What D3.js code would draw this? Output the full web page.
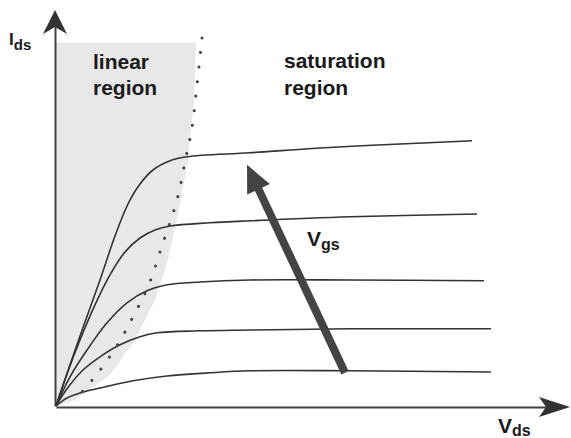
<!DOCTYPE html>
<html>
<head>
<meta charset="utf-8">
<script src="https://cdn.jsdelivr.net/npm/d3@7"></script>
<style>
  body { margin: 0; background: #fff; }
  svg { display: block; }
  text { font-family: "Liberation Sans", Arial, sans-serif; font-weight: bold; fill: #1a1a1a; }
</style>
</head>
<body>
<svg id="chart" width="571" height="438"></svg>
<script>
// output characteristics: [Vds, Ids] pairs (arbitrary units)
const curve1 = [[0,0],[0.28,1.03],[0.58,2.1],[0.88,3.15],[1.18,4.25],[1.44,5.05],[1.68,5.55],[1.94,5.9],[2.28,6.13],[2.62,6.23],[3.88,6.33],[5.28,6.45],[6.88,6.55],[8.32,6.63]];
const curve2 = [[0,0],[0.22,0.8],[0.48,1.65],[0.78,2.53],[1.08,3.28],[1.38,3.85],[1.68,4.2],[1.98,4.4],[2.28,4.5],[3.08,4.58],[3.88,4.63],[5.88,4.73],[8.42,4.8]];
const curve3 = [[0,0],[0.28,0.73],[0.62,1.4],[1.02,2.08],[1.42,2.58],[1.82,2.88],[2.22,3.03],[2.88,3.1],[3.88,3.15],[5.88,3.15],[8.56,3.13]];
const curve4 = [[0,0],[0.22,0.43],[0.54,0.9],[0.88,1.23],[1.28,1.53],[1.68,1.73],[2.02,1.83],[2.88,1.88],[3.88,1.9],[5.88,1.93],[8.7,1.93]];
const curve5 = [[0,0],[0.22,0.2],[0.54,0.35],[0.88,0.45],[1.54,0.63],[2.22,0.75],[3.08,0.83],[3.88,0.88],[5.88,0.88],[8.7,0.85]];
const curves = [curve1, curve2, curve3, curve4, curve5];

// boundary Vds = Vgs - Vt (dotted)
const satBoundary = [[2.92,9.2],[2.82,8.03],[2.72,6.95],[2.6,6.23],[2.42,5.15],[2.14,4.08],[1.84,2.98],[1.56,2.28],[1.24,1.55],[0.84,0.83],[0.52,0.35]];
// shaded linear region outline
const linearArea = [[0,9.08],[2.8,9.08],[2.76,7.65],[2.64,6.15],[2.44,4.78],[2.24,3.65],[1.98,2.65],[1.58,1.65],[1.08,0.78],[0.38,0.15],[0,0]];
// increasing Vgs arrow: from, to
const vgsArrow = [[5.78,0.83],[3.82,6.03]];

const xMax = 10, yMax = 10;

const svg = d3.select("#chart");
const x = d3.scaleLinear().domain([0, xMax]).range([56, 556]);
const y = d3.scaleLinear().domain([0, yMax]).range([406, 6]);

// shaded linear region
svg.append("path")
  .datum(linearArea)
  .attr("d", d3.line().x(d => x(d[0])).y(d => y(d[1])).curve(d3.curveLinearClosed))
  .attr("fill", "#e8e8e8");

// axes without ticks, just the lines
const xAxisScale = x.copy().domain([0, 10.1]).range([x(0), x(10.1)]);
const yAxisScale = y.copy().domain([0, 9.6]).range([y(0), y(9.6)]);

svg.append("g")
  .attr("transform", `translate(0,${y(0) + 1})`)
  .call(d3.axisBottom(xAxisScale).tickValues([]).tickSizeOuter(0))
  .select(".domain").attr("stroke", "#444").attr("stroke-width", 2);

svg.append("g")
  .attr("transform", `translate(${x(0) - 1},0)`)
  .call(d3.axisLeft(yAxisScale).tickValues([]).tickSizeOuter(0))
  .select(".domain").attr("stroke", "#444").attr("stroke-width", 2);

// arrowheads on the axes
const xt = x(10.28), xy = y(0) + 1;
svg.append("path")
  .attr("d", `M${xt},${xy} L${xt - 31},${xy - 10} L${xt - 24},${xy} L${xt - 31},${xy + 10} Z`)
  .attr("fill", "#333");
const yt = y(9.9), yx = x(0) - 1;
svg.append("path")
  .attr("d", `M${yx},${yt} L${yx + 12},${yt + 24} L${yx},${yt + 17} L${yx - 12},${yt + 24} Z`)
  .attr("fill", "#333");

// characteristic curves
const line = d3.line().x(d => x(d[0])).y(d => y(d[1])).curve(d3.curveCatmullRom.alpha(0.5));
svg.selectAll("path.curve")
  .data(curves)
  .enter()
  .append("path")
    .attr("class", "curve")
    .attr("d", line)
    .attr("fill", "none")
    .attr("stroke", "#333")
    .attr("stroke-width", 1.6);

// dotted boundary
svg.append("path")
  .datum(satBoundary)
  .attr("d", d3.line().x(d => x(d[0])).y(d => y(d[1])).curve(d3.curveCatmullRom))
  .attr("fill", "none")
  .attr("stroke", "#444")
  .attr("stroke-width", 3)
  .attr("stroke-linecap", "round")
  .attr("stroke-dasharray", "0.1 14.5");

// big Vgs arrow
const [p0, p1] = vgsArrow.map(d => [x(d[0]), y(d[1])]);
const dx = p1[0] - p0[0], dy = p1[1] - p0[1];
const len = Math.hypot(dx, dy), ux = dx / len, uy = dy / len;
const headLen = 27, headHalf = 12.5;
const base = [p1[0] - ux * headLen, p1[1] - uy * headLen];
svg.append("line")
  .attr("x1", p0[0]).attr("y1", p0[1])
  .attr("x2", base[0] + ux * 2).attr("y2", base[1] + uy * 2)
  .attr("stroke", "#444").attr("stroke-width", 8);
svg.append("path")
  .attr("d", `M${p1[0]},${p1[1]} L${base[0] - uy * headHalf},${base[1] + ux * headHalf} L${base[0] + uy * headHalf},${base[1] - ux * headHalf} Z`)
  .attr("fill", "#444");

// labels
function label(t, sub, px, py, size, subSize, subDy) {
  const el = svg.append("text").attr("x", px).attr("y", py).style("font-size", size + "px").text(t);
  if (sub) el.append("tspan").attr("dy", subDy).style("font-size", subSize + "px").text(sub);
}
label("I", "ds", 9, 45, 17, 15, 5);
label("V", "gs", 307, 246, 21, 16, 4);
label("V", "ds", 498, 433, 21, 16, 3);

svg.append("text").attr("x", 93).attr("y", 69).style("font-size", "21px").text("linear");
svg.append("text").attr("x", 93).attr("y", 95).style("font-size", "21px").text("region");
svg.append("text").attr("x", 284).attr("y", 68).style("font-size", "21px").text("saturation");
svg.append("text").attr("x", 284).attr("y", 95).style("font-size", "21px").text("region");
</script>
</body>
</html>
